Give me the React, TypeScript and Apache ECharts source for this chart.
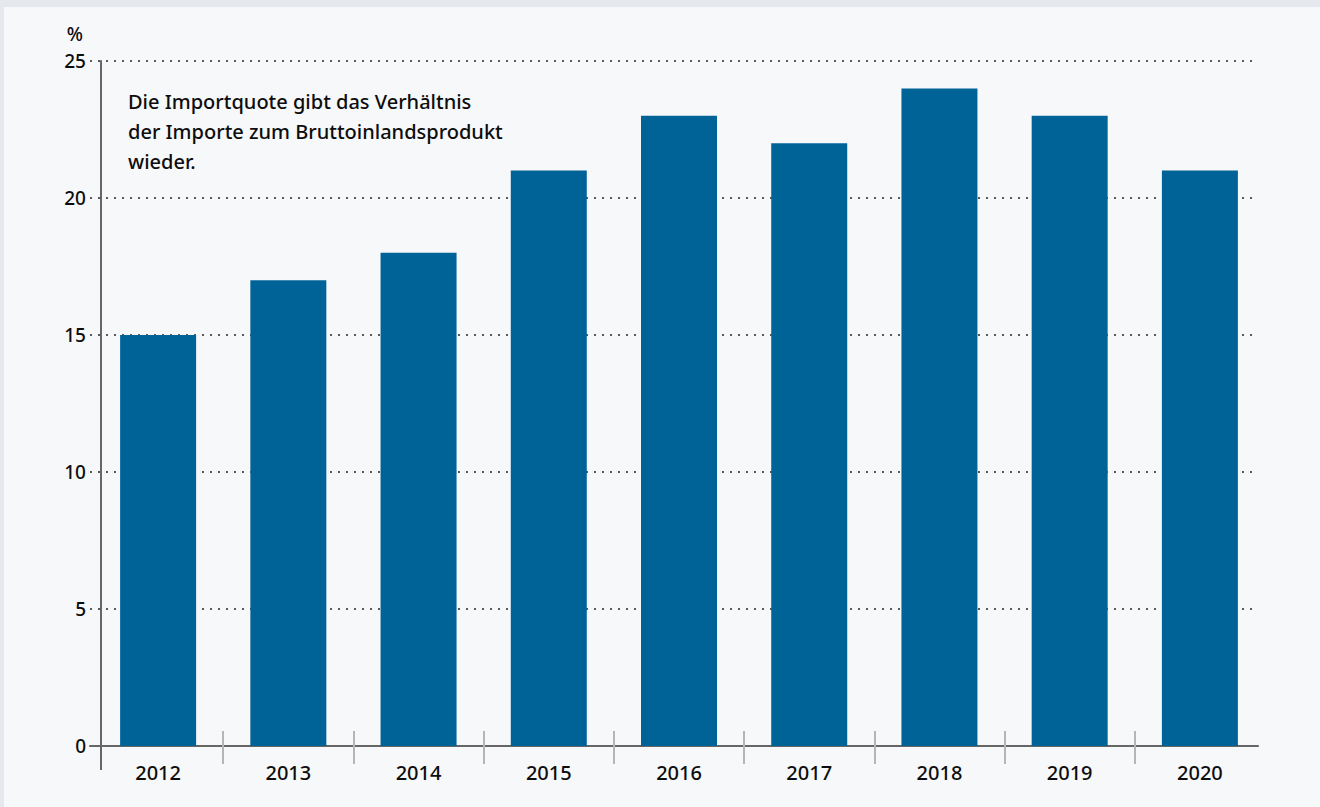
import React, { useEffect, useRef } from "react";
import * as echarts from "echarts";

const years = ["2012", "2013", "2014", "2015", "2016", "2017", "2018", "2019", "2020"];
const importQuota = [15, 17, 18, 21, 23, 22, 24, 23, 21];
const yMin = 0;
const yMax = 25;
const yStep = 5;
const unitLabel = "%";
const note = "Die Importquote gibt das Verhältnis\nder Importe zum Bruttoinlandsprodukt\nwieder.";

const FONT = "'Noto Sans', 'Open Sans', sans-serif";
const BAR = "#006398";
const AXIS = "#666666";
const TXT = "#0d0d0d";

export default function App() {
  const ref = useRef<HTMLDivElement>(null);
  useEffect(() => {
    if (!ref.current) return;
    const chart = echarts.init(ref.current, undefined, { renderer: "svg" });
    const boundaries = years.slice(1).map((_, i) => i + 0.5);
    chart.setOption({
      animation: false,
      backgroundColor: "#f7f8fa",
      textStyle: { fontFamily: FONT },
      title: {
        text: note,
        left: 119,
        top: 74,
        textStyle: { fontFamily: FONT, fontSize: 20, fontWeight: 500, color: TXT, lineHeight: 30 },
      },
      grid: [
        { left: 89, right: 55, top: 54, bottom: 61 },
        { left: 86, right: 62, top: 54, bottom: 61 },
      ],
      xAxis: [
        {
          type: "category",
          gridIndex: 0,
          data: years,
          axisLine: { show: false },
          axisTick: { show: false },
          axisLabel: { fontFamily: FONT, fontSize: 20, fontWeight: 500, color: TXT, margin: 16 },
        },
        {
          type: "value",
          gridIndex: 0,
          position: "bottom",
          min: -0.5,
          max: years.length - 0.5,
          offset: -15,
          axisLine: { show: false },
          axisLabel: { show: false },
          splitLine: { show: false },
          axisTick: { show: true, customValues: boundaries, length: 33, lineStyle: { color: "#b5b5b5", width: 2 } },
        },
        {
          type: "value",
          gridIndex: 1,
          min: 0,
          max: 1,
          axisLine: { show: true, onZero: false, lineStyle: { color: AXIS, width: 2 } },
          axisTick: { show: false },
          axisLabel: { show: false },
          splitLine: { show: false },
        },
      ],
      yAxis: [
        { type: "value", gridIndex: 0, min: yMin, max: yMax, interval: yStep, show: false },
        {
          type: "value",
          gridIndex: 1,
          min: yMin,
          max: yMax,
          interval: yStep,
          offset: -11,
          name: unitLabel,
          nameLocation: "end",
          nameGap: 18,
          nameTextStyle: { fontFamily: FONT, fontSize: 19, fontWeight: 500, color: TXT, align: "right", padding: [0, 18, 0, 0] },
          axisLine: { show: true, lineStyle: { color: AXIS, width: 2 } },
          axisTick: { show: false },
          axisLabel: { fontFamily: FONT, fontSize: 19, fontWeight: 500, color: TXT, margin: 15 },
          splitLine: { show: true, lineStyle: { color: "#5a5a5a", width: 2, type: [2, 6] } },
        },
      ],
      graphic: [
        {
          type: "line",
          shape: { x1: 97, y1: 739, x2: 97, y2: 763 },
          style: { stroke: AXIS, lineWidth: 2 },
        },
      ],
      series: [
        {
          type: "bar",
          xAxisIndex: 0,
          yAxisIndex: 0,
          data: importQuota,
          barWidth: 76,
          itemStyle: { color: BAR },
        },
      ],
    });
    return () => chart.dispose();
  }, []);
  return (
    <div style={{ position: "fixed", left: 0, top: 0, width: 1320, height: 807, background: "#e5e8ec" }}>
      <div ref={ref} style={{ position: "absolute", left: 4, top: 7, width: 1316, height: 800 }} />
    </div>
  );
}
